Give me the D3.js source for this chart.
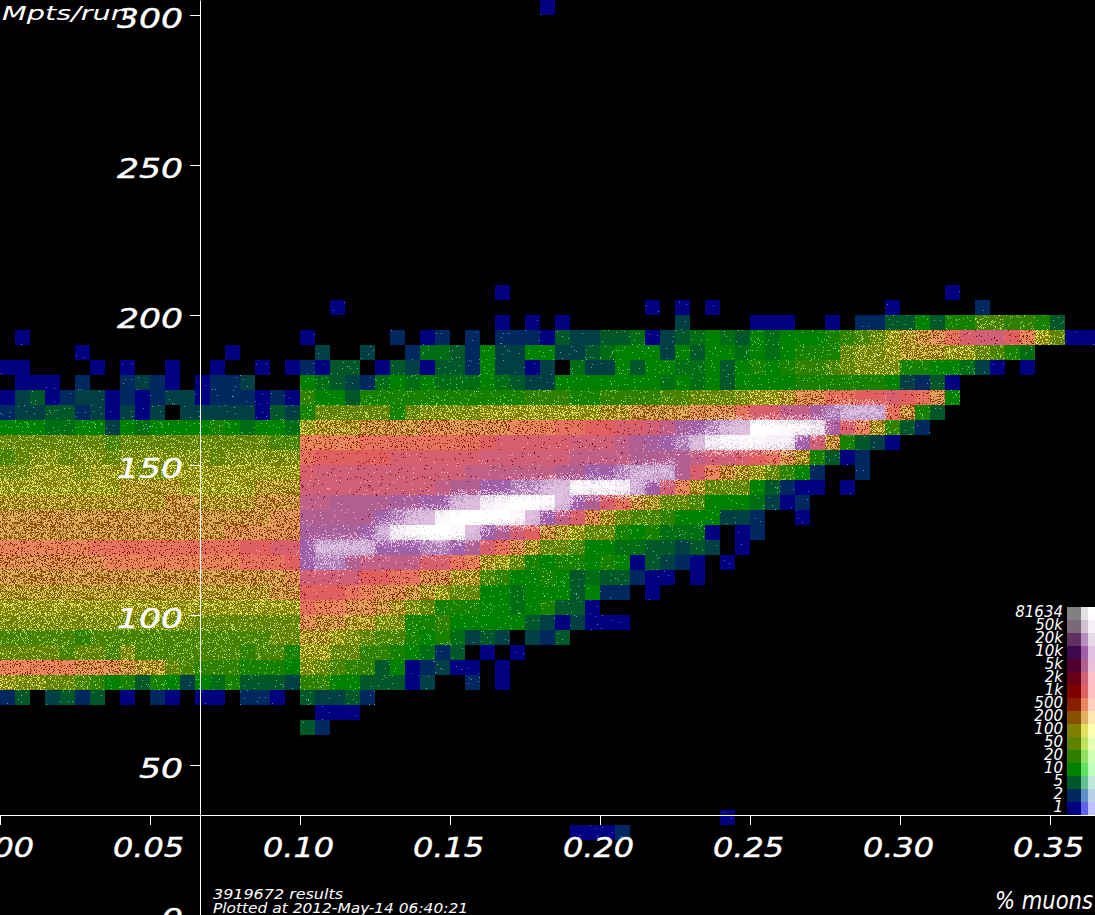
<!DOCTYPE html>
<html><head><meta charset="utf-8">
<script src="https://cdn.jsdelivr.net/npm/d3@7/dist/d3.min.js"></script>
<style>
html,body{margin:0;padding:0;background:#000;overflow:hidden}
svg{display:block}
text{font-family:"DejaVu Sans",sans-serif;font-style:italic;fill:#fff}
</style></head><body>
<svg id="chart" width="1095" height="915"></svg>
<script>
// Legend: count labels (low to high) and the three shades drawn for each
const legendLabels=["1","2","5","10","20","50","100","200","500","1k","2k","5k","10k","20k","50k","81634"];
const legendDark =["#000080","#002860","#005828","#008000","#308000","#608000","#808000","#885000","#882000","#800000","#680018","#500030","#400850","#603060","#786878","#808080"];
const legendMid  =["#6060e8","#6090c8","#60c090","#60e060","#90e060","#c0e060","#e0e060","#e0b060","#e88860","#e06060","#d06078","#b06090","#a060a8","#b890c0","#d0c0d0","#e0e0e0"];
const legendLight=["#c0c0ff","#b8d0e8","#c0e8d8","#c0ffc0","#d0ffb8","#e8ffb8","#ffffb0","#ffe8b0","#ffd0c0","#ffc0c0","#ffc0c8","#e8c0d8","#e0c0e0","#e8d8e8","#f8f0f8","#ffffff"];
// Axis ticks
const xTicks=[0,0.05,0.10,0.15,0.20,0.25,0.30,0.35];
const yTicks=[0,50,100,150,200,250,300];
// Lower edge (Mpts/run) of every histogram row, top to bottom
const rowLow=[300,205,200,195,190,185,180,175,170,165,160,155,150,145,140,135,130,125,120,115,110,105,100,95,90,85,80,75,70,65,60,30,25];
// Cell colour level per 0.005-wide column; A=1 count bin, then half steps up to e=top bin; "." = empty
const alphabet="ABCDEFGHIJKLMNOPQRSTUVWXYZabcde";
const cellRows=[
"....................|................A.|",
"....................|.............A....|.........................A",
"....................|..A...............|.....A.A.A...........A.....C",
"....................|.............A.A.A|.......D....AAA..A.CCEEGEHHJJIIHE",
".A..................|A.....C.AC.C.CCCAE|DDEEFADEFGFEGFGGGHIJKMNOPRTUUSQMKAA",
".....A.........A....|.D..D..CFFECGDDGGD|DEFGGGDGEGGFGFGHHHKLLMNNNMMKJHF",
"AA....A.A..A..A..A.A|CAEE.AEDAEECGDDAD.|FDDGEGGFFGEGHGHIIJKLLLHHGGFDA.A",
".AAA.C..CDCA.ACCD...|GFEDCFGFGFFFGFEDDG|GGGGGGFGFGEGGGGHHHHHHGDCEA",
"ADEACDDACACDDACCCACA|IGGEHHHHHHHHHHHIII|HHIIIIJJKKKLMMNPPRRSSTSRPG",
"CDDEECDADAD.DDDDDAED|HKKKKKHKLLLLMMMMMM|MMNNOOOOPPPRTTVVXZaaaROHE",
"GGGFFGGDGFGGGGHGFGGF|MNNNOOOOPPPPPPQQQR|RSSTTUVXYZabeeddcXTQNIEC",
"KKKKKKKJKKKKKKKKKKJJ|QQQQRRRRRRRRSTTTTT|UUUVWXYZbcdddccYUOHEDA",
"JKLLKLLKLLLLLLKLLLLL|RSSSSSTTTTTTUUUUUU|VVVVWWWWVUUTSRPNHEAC",
"LLMMMLMMMLLMMMMMMMMM|TUUUUUUUUUUVVVVVVW|WYYZaaaWTQONMKIGC..C",
"MMMMMMMMNNNNMMMMMNNN|UUUUUUUUUVWWYYZZab|dddcaYUQNKKKGECAA.A",
"NNNNNNNNNNNOONNNNOOO|VVWWWWXXYYabcdeedb|YWTRONKKJGGGFDAC",
"OOOOOOOOOOOOOOOOOOPP|WWWWWYZabdeeeedbYV|TPNKJJIGGGDDC..A",
"OOOOOOOOOOOOOOOPPPPP|XXXXYacdeedbYWUSON|MKKHGHFFFA.AC",
"QQQQQQRRRRRRRRRRSSTT|YaaaaYYYZZYWTRPNKK|JGGFFEEDED.A",
"PPPPPPPQQQQQQQQQRRRS|YZZWVVVVTTRQNMKHGH|HGHGAEDCA.A",
"OOOOOOOOOOOOOOOOOOOP|UUUUSSRRPPNNJIGGHG|EFEECAA.A",
"NNNNNNNNNNNNNNNNNNOO|SSSRQPPONMKKGGFGGG|EGCC.A",
"MMMMMMMMMMMMMMMMMMMM|RQQPPONLKHHHGGFGHE|EA",
"LLLLLLLLLLLLLKKKKKKK|POONNLLHHIGGGGGEDA|DAAA",
"JJJJJIJJJJJJJJJJJJKK|NNMLKJJHGHFDED.DCE|",
"KKKKJKKJLJJJJJJJIJJH|MMKKIIHGFCE.A.A",
"QQQQQPPPONNKJIIIHHHG|LKJIIEGACDAA.A",
"MLLKKJIGHEHGDGFHEEED|IIGGEEEAD..C.A",
"CE.DECE.A.CA.AA.CCA.|EDDEC",
"....................|.AAA",
"....................|EC",
"....................|..................|..........A",
"....................|..................|AAAC"
];
// Texture: share of pixels lit to the mid shade and to the light shade, per level
const ditherLevels=[1,2,3,4,5,6,7,8,9,10,11,12,13,13.5,14,14.5,15,15.5,16];
const ditherMid   =[.005,.008,.015,.03,.07,.16,.33,.55,.85,.96,.98,.995,1,1,1,1,1,1,1];
const ditherLight =[0,0,0,0,0,0,0,0,0,.004,.012,.02,.08,.32,.8,.92,.98,.995,1];

const W=1095,H=915,binW=0.005,binH=5;
const svg=d3.select("#chart");
svg.append("rect").attr("width",W).attr("height",H).attr("fill","#000");
const x=d3.scaleLinear().domain([0,0.365]).range([0,W]);
const y=d3.scaleLinear().domain([0,305]).range([H,0]);
const levels=legendLabels.map((d,i)=>i+1);
const darkScale=d3.scaleLinear().domain(levels).range(legendDark);
const midScale=d3.scaleLinear().domain(levels).range(legendMid);
const lightScale=d3.scaleLinear().domain(levels).range(legendLight);
const midShare=d3.scaleLinear().domain(ditherLevels).range(ditherMid);
const lightShare=d3.scaleLinear().domain(ditherLevels).range(ditherLight);
// Bright cells show the lavender shade of the 10k step until the 50k step is reached
const dotColour=L=>L<=13?lightScale(L):L<=14.5?lightScale(13):lightScale(L);

const cells=[];
const grid=[];
cellRows.forEach((row,r)=>{
  grid[r]=[];
  row.replace(/\|/g,"").split("").forEach((ch,c)=>{
    const idx=alphabet.indexOf(ch);
    if(idx>=0){
      const L=1+idx/2;
      grid[r][c]=lightShare(L);
      cells.push({c,r,bin:c*binW,low:rowLow[r],level:L,idx});
    }
  });
});
const shareAt=(r,c)=>(grid[r]&&grid[r][c])||0;

// Speckle tiles: one fixed pixel texture per used level
const TW=67,TH=53;
const defs=svg.append("defs");
const noise=(px,py,s)=>{let h=(px*73856093)^(py*19349663)^(s*83492791);h=Math.imul(h^(h>>>13),1274126177);h=Math.imul(h^(h>>>16),2654435761);return ((h^(h>>>15))>>>0)/4294967296;};
Array.from(new Set(cells.map(d=>d.idx))).forEach(idx=>{
  const L=1+idx/2,pm=midShare(L);
  let mid="";
  for(let py=0;py<TH;py++)for(let px=0;px<TW;px++){
    if(noise(px,py,idx+1)<pm) mid+=`M${px} ${py}h1v1h-1z`;
  }
  const p=defs.append("pattern").attr("id","tex"+idx).attr("patternUnits","userSpaceOnUse").attr("width",TW).attr("height",TH);
  p.append("rect").attr("width",TW).attr("height",TH).attr("fill",darkScale(L));
  p.append("path").attr("d",mid).attr("fill",midScale(L)).attr("shape-rendering","crispEdges");
});

svg.append("g").attr("shape-rendering","crispEdges").selectAll("rect").data(cells).join("rect")
  .attr("x",d=>x(d.bin)).attr("y",d=>y(d.low+binH))
  .attr("width",d=>x(d.bin+binW)-x(d.bin)).attr("height",d=>y(d.low)-y(d.low+binH))
  .attr("fill",d=>`url(#tex${d.idx})`);

// Light pixels fade across cell borders, so streaks have soft edges
svg.append("g").attr("shape-rendering","crispEdges").selectAll("path").data(cells.filter(d=>d.level>=8)).join("path")
  .attr("fill",d=>dotColour(d.level))
  .attr("d",d=>{
    const x0=Math.round(x(d.bin)),y0=Math.round(y(d.low+binH)),cw=Math.round(x(binW)-x(0)),ch=Math.round(y(0)-y(binH));
    let out="";
    for(let py=0;py<ch;py++)for(let px=0;px<cw;px++){
      const u=(px+.5)/cw-.5,v=(py+.5)/ch-.5;
      const cA=d.c+Math.floor(u),rA=d.r+Math.floor(v);
      const fu=u-Math.floor(u),fv=v-Math.floor(v);
      const p=(1-fv)*((1-fu)*shareAt(rA,cA)+fu*shareAt(rA,cA+1))+fv*((1-fu)*shareAt(rA+1,cA)+fu*shareAt(rA+1,cA+1));
      if(noise(x0+px,y0+py,97)<p) out+=`M${x0+px} ${y0+py}h1v1h-1z`;
    }
    return out;
  });

// Legend
const legendRow=d3.scaleBand().domain(d3.reverse(legendLabels)).range([607,815]);
const legend=svg.append("g").attr("shape-rendering","crispEdges");
legendLabels.forEach((lab,i)=>{
  const top=legendRow(lab),h=legendRow.bandwidth();
  [[1067,14,legendDark],[1081,7,legendMid],[1088,7,legendLight]].forEach(([lx,lw,cols])=>{
    legend.append("rect").attr("x",lx).attr("y",top).attr("width",lw).attr("height",h).attr("fill",cols[i]);
  });
  svg.append("text").attr("x",1063).attr("y",top+10).attr("text-anchor","end").attr("font-size",15).text(lab);
});

// Axes
const xAxis=d3.axisBottom(x).tickValues(xTicks).tickFormat(d3.format(".2f")).tickSize(10).tickSizeOuter(0);
const gx=svg.append("g").attr("transform",`translate(0,${y(33.333)})`).call(xAxis);
const yAxis=d3.axisRight(y).tickValues(yTicks).tickFormat(d3.format("d")).tickSize(-10).tickSizeOuter(0);
const gy=svg.append("g").attr("transform",`translate(${x(0.2/3)},0)`).call(yAxis);
[gx,gy].forEach(g=>{g.selectAll("line").attr("stroke","#fff");g.select(".domain").attr("stroke","#fff");});
gx.selectAll("text").attr("y",42).attr("dy",0).attr("x",-2).attr("text-anchor","middle")
  .attr("font-size",27).attr("font-family",null).attr("stroke","#fff").attr("stroke-width",.4)
  .attr("textLength",71).attr("lengthAdjust","spacingAndGlyphs");
gy.selectAll("text").attr("x",-17).attr("y",12).attr("dy",0).attr("text-anchor","end")
  .attr("font-size",27).attr("font-family",null).attr("stroke","#fff").attr("stroke-width",.4)
  .attr("textLength",d=>String(d).length*22).attr("lengthAdjust","spacingAndGlyphs");

const label=(t,lx,ly,fs,len)=>svg.append("text").attr("x",lx).attr("y",ly).attr("font-size",fs)
  .attr("textLength",len).attr("lengthAdjust","spacingAndGlyphs").text(t);
label("Mpts/run",2,20,20,127);
label("% muons",995,909,24,98);
label("3919672 results",213,899,14,130);
label("Plotted at 2012-May-14 06:40:21",213,913,14,255);
</script>
</body></html>
